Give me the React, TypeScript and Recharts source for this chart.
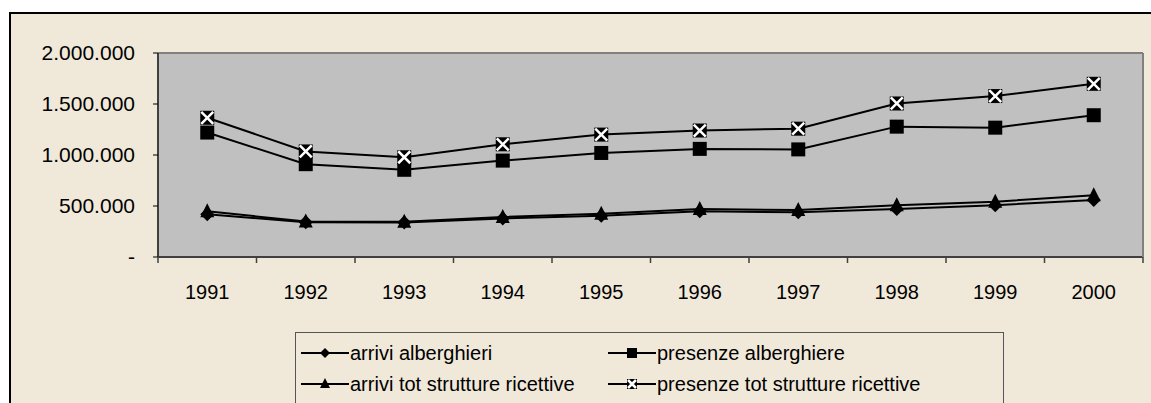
import { CartesianGrid, Line, LineChart, ReferenceLine, XAxis, YAxis } from "recharts";

const years = ["1991", "1992", "1993", "1994", "1995", "1996", "1997", "1998", "1999", "2000"];
const arriviAlberghieri = [420000, 340000, 338000, 378000, 405000, 448000, 438000, 470000, 508000, 558000];
const presenzeAlberghiere = [1220000, 910000, 855000, 945000, 1020000, 1060000, 1055000, 1278000, 1268000, 1390000];
const arriviTot = [448000, 348000, 346000, 392000, 425000, 470000, 460000, 508000, 542000, 606000];
const presenzeTot = [1365000, 1035000, 978000, 1105000, 1200000, 1240000, 1258000, 1505000, 1578000, 1698000];
const yTicks = [0, 500000, 1000000, 1500000, 2000000];

const series = [
  { key: "aa", name: "arrivi alberghieri", values: arriviAlberghieri, marker: "diamond" },
  { key: "pa", name: "presenze alberghiere", values: presenzeAlberghiere, marker: "square" },
  { key: "at", name: "arrivi tot strutture ricettive", values: arriviTot, marker: "triangle" },
  { key: "pt", name: "presenze tot strutture ricettive", values: presenzeTot, marker: "cross" },
];

const data = years.map((year, i) => {
  const row: Record<string, string | number> = { year };
  series.forEach((s) => (row[s.key] = s.values[i]));
  return row;
});

const BG = "#F0E8D8";
const FONT = "'Liberation Sans', Arial, sans-serif";

function Marker({ kind, cx, cy, r = 7 }: { kind: string; cx: number; cy: number; r?: number }) {
  if (kind === "diamond") {
    return <polygon points={`${cx},${cy - r} ${cx + r},${cy} ${cx},${cy + r} ${cx - r},${cy}`} fill="#000" />;
  }
  if (kind === "square") {
    return <rect x={cx - r} y={cy - r} width={2 * r} height={2 * r} fill="#000" />;
  }
  if (kind === "triangle") {
    return <polygon points={`${cx},${cy - r - 1} ${cx + r},${cy + r - 1} ${cx - r},${cy + r - 1}`} fill="#000" />;
  }
  const a = r - 1;
  return (
    <g>
      <rect x={cx - r} y={cy - r} width={2 * r} height={2 * r} fill="#000" />
      <path d={`M${cx - a},${cy - a}L${cx + a},${cy + a}M${cx + a},${cy - a}L${cx - a},${cy + a}`} stroke="#fff" strokeWidth={2.5} />
    </g>
  );
}

const fmt = (v: number) => (v === 0 ? "-" : v.toLocaleString("de-DE"));

function YearTick(props: any) {
  const { x, y, payload, index, visibleTicksCount } = props;
  const off = payload?.offset || 49;
  const axisY = y - 28;
  return (
    <g>
      <line x1={x - off} y1={axisY} x2={x - off} y2={axisY + 6} stroke="#404040" strokeWidth={1.5} />
      {index === visibleTicksCount - 1 && (
        <line x1={x + off} y1={axisY} x2={x + off} y2={axisY + 6} stroke="#404040" strokeWidth={1.5} />
      )}
      <text x={x} y={y} dy="0.71em" textAnchor="middle" fontSize={20} fontFamily={FONT} fill="#000">
        {payload.value}
      </text>
    </g>
  );
}

function LegendSample({ kind }: { kind: string }) {
  return (
    <svg width={48} height={18} style={{ display: "block" }}>
      <line x1={0} y1={9} x2={48} y2={9} stroke="#000" strokeWidth={2} />
      <Marker kind={kind} cx={24} cy={9} r={5} />
    </svg>
  );
}

export default function App() {
  return (
    <div style={{ position: "absolute", left: 0, top: 0, width: 1151, height: 403, overflow: "hidden", background: "#fff" }}>
      <div
        style={{
          position: "absolute",
          left: 9,
          top: 12,
          width: 1170,
          height: 420,
          boxSizing: "border-box",
          border: "2px solid #000",
          background: BG,
        }}
      />
      <div style={{ position: "absolute", left: 0, top: 0 }}>
        <LineChart width={1151} height={403} data={data} margin={{ top: 53, right: 0, left: 0, bottom: 0 }}>
          <CartesianGrid fill="#C0C0C0" stroke="#000" strokeWidth={1} vertical={false} horizontalValues={yTicks} />
          <XAxis
            dataKey="year"
            scale="band"
            height={146}
            axisLine={{ stroke: "#404040", strokeWidth: 2 }}
            tickLine={false}
            tickSize={0}
            tickMargin={28}
            tick={<YearTick />}
            interval={0}
          />
          <YAxis
            yAxisId="l"
            width={158}
            domain={[0, 2000000]}
            ticks={yTicks}
            tickFormatter={fmt}
            tickSize={5}
            tickMargin={18}
            axisLine={{ stroke: "#404040", strokeWidth: 2 }}
            tickLine={{ stroke: "#000" }}
            tick={{ fontSize: 21, fontFamily: FONT, fill: "#000" }}
          />
          <YAxis
            yAxisId="r"
            orientation="right"
            width={8}
            domain={[0, 2000000]}
            tick={false}
            tickLine={false}
            axisLine={{ stroke: "#808080", strokeWidth: 2 }}
          />
          <ReferenceLine yAxisId="l" y={2000000} stroke="#808080" strokeWidth={2} />
          {series.map((s) => (
            <Line
              key={s.key}
              yAxisId="l"
              dataKey={s.key}
              name={s.name}
              stroke="#000"
              strokeWidth={2}
              isAnimationActive={false}
              dot={(p: any) => (
                <g key={`${s.key}-${p.index}`}>
                  <Marker kind={s.marker} cx={p.cx} cy={p.cy} />
                </g>
              )}
              activeDot={false}
            />
          ))}
        </LineChart>
      </div>
      <div
        style={{
          position: "absolute",
          left: 295,
          top: 332,
          width: 709,
          height: 80,
          boxSizing: "border-box",
          border: "1px solid #555",
          fontFamily: FONT,
          fontSize: 20,
          color: "#000",
        }}
      >
        {series.map((s, i) => (
          <div
            key={s.key}
            style={{
              position: "absolute",
              left: i % 2 === 0 ? 5 : 312,
              top: i < 2 ? 10 : 41,
              display: "flex",
              alignItems: "center",
              whiteSpace: "nowrap",
              lineHeight: "20px",
            }}
          >
            <LegendSample kind={s.marker} />
            <span style={{ marginLeft: 1 }}>{s.name}</span>
          </div>
        ))}
      </div>
    </div>
  );
}
